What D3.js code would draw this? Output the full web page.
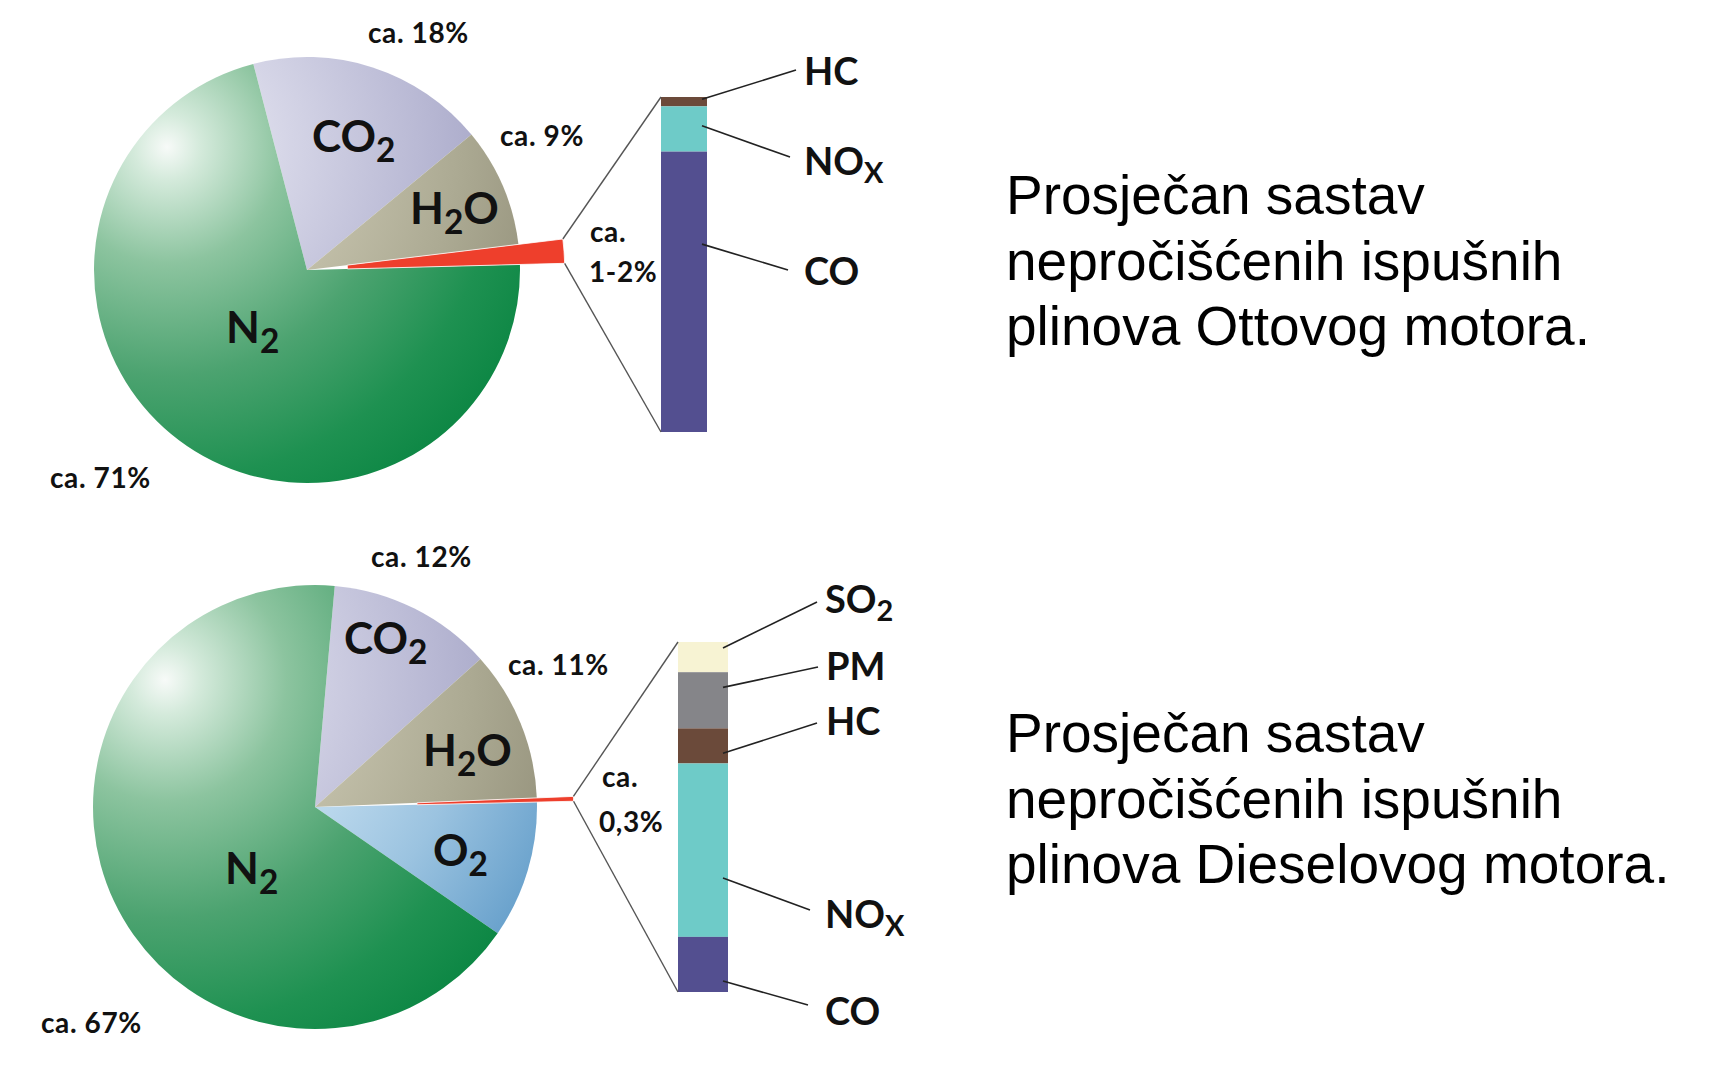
<!DOCTYPE html>
<html>
<head>
<meta charset="utf-8">
<script src="https://cdn.jsdelivr.net/npm/d3@7"></script>
<style>
  html, body { margin: 0; padding: 0; background: #ffffff; }
  svg { display: block; }
</style>
</head>
<body>
<svg id="chart" width="1714" height="1080"></svg>
<script>
// ---------------- DATA ----------------
// Otto engine – main exhaust composition (%)
const ottoGases = ["CO2", "H2O", "poll", "N2"];
const ottoShares = [18, 9, 1.5, 71];
// Otto engine – breakdown of the pollutant share (relative %)
const ottoBarCats = ["HC", "NOx", "CO"];
const ottoBarShares = [2.8, 13.5, 83.7];

// Diesel engine – main exhaust composition (%)
const dieselGases = ["CO2", "H2O", "poll", "O2", "N2"];
const dieselShares = [12, 11, 0.3, 10, 67];
// Diesel engine – breakdown of the pollutant share (relative %)
const dieselBarCats = ["SO2", "PM", "HC", "NOx", "CO"];
const dieselBarShares = [8.6, 16, 10, 49.4, 15.7];

// Percentage labels
const ottoPctLabels = ["ca. 18%", "ca. 9%", "ca. 71%"];
const ottoPollLabel = ["ca.", "1-2%"];
const dieselPctLabels = ["ca. 12%", "ca. 11%", "ca. 67%"];
const dieselPollLabel = ["ca.", "0,3%"];

// Descriptions
const ottoText = ["Prosječan sastav", "nepročišćenih ispušnih", "plinova Ottovog motora."];
const dieselText = ["Prosječan sastav", "nepročišćenih ispušnih", "plinova Dieselovog motora."];

// ---------------- STYLE ----------------
const gradStops = {
  N2:  [[0, "#f7faf8"], [0.08, "#d4eadb"], [0.28, "#8cc49f"], [0.55, "#4ca370"], [0.8, "#1e9151"], [1, "#0a8542"]],
  CO2: [[0, "#f0f0f6"], [0.3, "#d4d4e6"], [0.6, "#babad5"], [1, "#9595bb"]],
  H2O: [[0, "#e2dfd2"], [0.4, "#c4c1ab"], [0.7, "#acaa93"], [1, "#918e78"]],
  O2:  [[0, "#eaf3f9"], [0.4, "#c4def0"], [0.7, "#9bc3e0"], [1, "#649eca"]]
};
const pollColor = "#ee3f2c";
const barColors = { HC: "#6b4a3a", NOx: "#6ecbc8", CO: "#534f90", PM: "#858589", SO2: "#f7f3d3" };
const labelFont = "Lato, 'Noto Sans', sans-serif";

const svg = d3.select("#chart");
const defs = svg.append("defs");

// formula renderer: digits and lowercase x become subscripts
function formula(g, x, y, size, name) {
  const t = g.append("text").attr("x", x).attr("y", y)
    .attr("font-family", labelFont).attr("font-weight", 700)
    .attr("font-size", size).attr("fill", "#111");
  let sub = false;
  for (const ch of name) {
    const isSub = /[0-9x]/.test(ch);
    const ts = t.append("tspan").text(isSub ? ch.toUpperCase() : ch);
    if (isSub && !sub) { ts.attr("dy", size * 0.22).attr("font-size", size * 0.76); sub = true; }
    else if (isSub) { ts.attr("font-size", size * 0.76); }
    else if (!isSub && sub) { ts.attr("dy", -size * 0.22); sub = false; }
  }
  return t;
}

function plainText(g, x, y, size, str) {
  return g.append("text").attr("x", x).attr("y", y)
    .attr("font-family", labelFont).attr("font-weight", 700)
    .attr("font-size", size).attr("letter-spacing", 0.6).attr("fill", "#111").text(str);
}

function drawPanel(cfg) {
  const g = svg.append("g");
  const [cx, cy] = cfg.center;
  const R = cfg.radius;

  // gradients for this panel (sphere-like shading from a highlight point)
  Object.keys(gradStops).forEach(k => {
    const gr = defs.append("radialGradient")
      .attr("id", cfg.id + "-" + k)
      .attr("gradientUnits", "userSpaceOnUse")
      .attr("cx", cfg.highlight[0]).attr("cy", cfg.highlight[1])
      .attr("fx", cfg.highlight[0]).attr("fy", cfg.highlight[1])
      .attr("r", R * 1.95)
      .attr("gradientTransform", `translate(${-cx},${-cy})`);
    gradStops[k].forEach(s => gr.append("stop").attr("offset", s[0]).attr("stop-color", s[1]));
  });

  const pie = d3.pie().sort(null).value(d => d.v)
    .startAngle(cfg.startDeg * Math.PI / 180)
    .endAngle(cfg.startDeg * Math.PI / 180 + 2 * Math.PI);
  const data = cfg.gases.map((k, i) => ({ k, v: cfg.shares[i] }));
  const arcs = pie(data);

  const arcMain = d3.arc().innerRadius(0).outerRadius(R);
  const arcPoll = d3.arc().innerRadius(R * cfg.pollInner).outerRadius(R * cfg.pollOuter);

  const pg = g.append("g").attr("transform", `translate(${cx},${cy})`);
  pg.selectAll("path.slice").data(arcs.filter(a => a.data.k !== "poll")).join("path")
    .attr("class", "slice")
    .attr("d", arcMain)
    .attr("fill", d => `url(#${cfg.id}-${d.data.k})`);

  const poll = arcs.find(a => a.data.k === "poll");
  pg.append("path")
    .attr("d", arcPoll(poll))
    .attr("fill", pollColor)
    .attr("stroke", "#fff").attr("stroke-width", 0.8);

  // tip corners of the pollutant wedge
  const ro = R * cfg.pollOuter;
  const tip = ang => [cx + ro * Math.sin(ang), cy - ro * Math.cos(ang)];
  const tipTop = tip(poll.startAngle), tipBot = tip(poll.endAngle);

  // stacked bar
  const [bx0, bx1] = cfg.barX;
  const total = d3.sum(cfg.barShares);
  const y = d3.scaleLinear().domain([0, total]).range(cfg.barY);
  let acc = 0;
  const segs = cfg.barCats.map((c, i) => { const s = { c, v: cfg.barShares[i], y0: acc }; acc += cfg.barShares[i]; return s; });
  g.selectAll("rect.seg").data(segs).join("rect")
    .attr("class", "seg")
    .attr("x", bx0).attr("width", bx1 - bx0)
    .attr("y", d => y(d.y0)).attr("height", d => y(d.y0 + d.v) - y(d.y0))
    .attr("fill", d => barColors[d.c]);

  // connectors from wedge tip to bar
  g.append("line").attr("x1", tipTop[0]).attr("y1", tipTop[1]).attr("x2", bx0).attr("y2", y(0))
    .attr("stroke", "#555").attr("stroke-width", 1.4);
  g.append("line").attr("x1", tipBot[0]).attr("y1", tipBot[1]).attr("x2", bx0).attr("y2", y(total))
    .attr("stroke", "#555").attr("stroke-width", 1.4);

  // bar labels with leaders
  segs.forEach((s, i) => {
    const L = cfg.barLabelPos[i];
    const sy = y(s.y0 + s.v * cfg.leaderFrac[i]);
    g.append("line").attr("x1", bx1 - 5).attr("y1", sy).attr("x2", L[2]).attr("y2", L[3])
      .attr("stroke", "#222").attr("stroke-width", 1.6);
    formula(g, L[0], L[1], 38, s.c);
  });

  // gas labels
  cfg.gasLabelPos.forEach(p => formula(g, p[1], p[2], 44, p[0]));

  // percentage labels
  cfg.pctLabels.forEach((t, i) => plainText(g, cfg.pctPos[i][0], cfg.pctPos[i][1], 28, t));
  plainText(g, cfg.pollPos[0][0], cfg.pollPos[0][1], 28, cfg.pollLabel[0]);
  plainText(g, cfg.pollPos[1][0], cfg.pollPos[1][1], 28, cfg.pollLabel[1]);

  // description text
  const tx = g.append("text").attr("font-family", "'Liberation Sans', Arial, sans-serif")
    .attr("font-size", 55).attr("fill", "#000");
  cfg.text.forEach((line, i) => tx.append("tspan").attr("x", cfg.textPos[0]).attr("y", cfg.textPos[1] + i * 65.5).text(line));
}

drawPanel({
  id: "otto",
  center: [307, 270], radius: 213, highlight: [167, 147], startDeg: -14.6,
  gases: ottoGases, shares: ottoShares, pollInner: 0.19, pollOuter: 1.21,
  barX: [661, 707], barY: [97, 432], barCats: ottoBarCats, barShares: ottoBarShares,
  leaderFrac: [0.25, 0.43, 0.33],
  barLabelPos: [[804, 85, 796, 70], [804, 175, 790, 157], [804, 285, 788, 270]],
  gasLabelPos: [["CO2", 312, 152], ["H2O", 410, 224], ["N2", 226, 343]],
  pctLabels: ottoPctLabels, pctPos: [[368, 43], [500, 146], [50, 488]],
  pollLabel: ottoPollLabel, pollPos: [[590, 242], [589, 282]],
  text: ottoText, textPos: [1006, 214]
});

drawPanel({
  id: "diesel",
  center: [315, 807], radius: 222, highlight: [165, 680], startDeg: 5.1,
  gases: dieselGases, shares: dieselShares, pollInner: 0.46, pollOuter: 1.165,
  barX: [678, 728], barY: [642, 992], barCats: dieselBarCats, barShares: dieselBarShares,
  leaderFrac: [0.2, 0.27, 0.71, 0.66, 0.8],
  barLabelPos: [[825, 613, 817, 602], [826, 680, 818, 667], [826, 735, 817, 723], [825, 928, 810, 910], [825, 1025, 808, 1005]],
  gasLabelPos: [["CO2", 344, 654], ["H2O", 423, 766], ["O2", 433, 866], ["N2", 225, 884]],
  pctLabels: dieselPctLabels, pctPos: [[371, 567], [508, 675], [41, 1033]],
  pollLabel: dieselPollLabel, pollPos: [[602, 787], [599, 832]],
  text: dieselText, textPos: [1006, 752]
});
</script>
</body>
</html>
